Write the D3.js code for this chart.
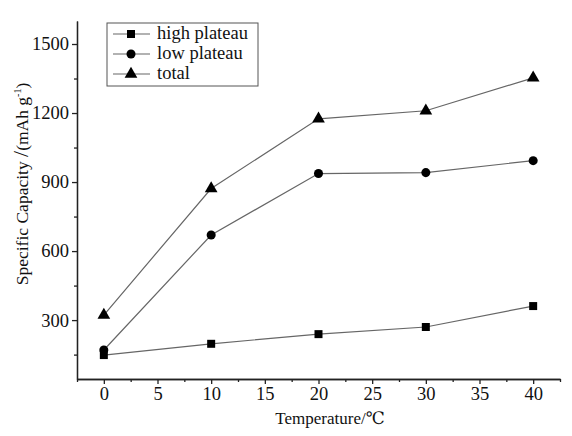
<!DOCTYPE html>
<head>
  <meta charset="utf-8">
  <script src="https://d3js.org/d3.v7.min.js"></script>
  <style>
body { margin:0; background:#fff; }
.axis path, .axis line { stroke:#222; stroke-width:1.3; }
.series { fill:none; stroke:#666; stroke-width:1.2; }
  </style>
</head>
<body>
  <script>
const temps = [0, 10, 20, 30, 40]
const highPlateau = [148, 197, 239, 270, 361]
const lowPlateau = [170, 670, 937, 941, 993]
const total = [322, 872, 1175, 1210, 1353]
const seriesNames = ['high plateau', 'low plateau', 'total']
const xTicks = [0, 5, 10, 15, 20, 25, 30, 35, 40]
const yTicks = [300, 600, 900, 1200, 1500]

const W = 572, H = 436
const margin = { top: 21, right: 12, bottom: 57, left: 77 }
const serif = '"Liberation Serif", "DejaVu Serif", serif'

const svg = d3.select('body').append('svg')
	.attr('width', W).attr('height', H)

const x = d3.scaleLinear().domain([-2.5, 42.5]).range([margin.left, W - margin.right])
const y = d3.scaleLinear().domain([44, 1600]).range([H - margin.bottom, margin.top])

// minor ticks
const xMinor = d3.range(-2.5, 42.6, 2.5).filter(v => v % 5 !== 0)
const yMinor = d3.range(150, 1600, 300)

svg.append('g').attr('class', 'axis')
	.attr('transform', `translate(0,${y.range()[0]})`)
	.call(d3.axisBottom(x).tickValues(xMinor).tickSize(3).tickFormat('').tickSizeOuter(0))
svg.append('g').attr('class', 'axis')
	.attr('transform', `translate(${x.range()[0]},0)`)
	.call(d3.axisLeft(y).tickValues(yMinor).tickSize(3).tickFormat('').tickSizeOuter(0))

const xa = svg.append('g').attr('class', 'axis')
	.attr('transform', `translate(0,${y.range()[0]})`)
	.call(d3.axisBottom(x).tickValues(xTicks).tickSize(5).tickSizeOuter(0).tickPadding(3).tickFormat(d3.format('d')))
const ya = svg.append('g').attr('class', 'axis')
	.attr('transform', `translate(${x.range()[0]},0)`)
	.call(d3.axisLeft(y).tickValues(yTicks).tickSize(5).tickSizeOuter(0).tickPadding(3).tickFormat(d3.format('d')))
xa.attr('font-family', null).attr('font-size', null)
ya.attr('font-family', null).attr('font-size', null)
svg.selectAll('.axis text').style('font-family', serif).style('font-size', '18.5px').style('fill', '#111')

svg.append('text')
	.attr('x', 330).attr('y', 424)
	.attr('text-anchor', 'middle')
	.style('font-family', serif).style('font-size', '17px').style('fill', '#111')
	.text('Temperature/℃')

const yt = svg.append('text')
	.attr('transform', 'translate(28,184) rotate(-90)')
	.attr('text-anchor', 'middle')
	.style('font-family', serif).style('font-size', '17.5px').style('fill', '#111')
yt.append('tspan').text('Specific Capacity ')
yt.append('tspan').style('font-size', '22px').text('/')
yt.append('tspan').text('(mAh g')
yt.append('tspan').style('font-size', '10px').attr('dy', -7).text('-1')
yt.append('tspan').attr('dy', 7).text(')')

const data = [highPlateau, lowPlateau, total]
const symbols = [d3.symbolSquare, d3.symbolCircle, d3.symbolTriangle]
const sizes = [64, 64, 70]

const line = d3.line().x((d, i) => x(temps[i])).y(d => y(d))

data.forEach((vals, k) => {
	svg.append('path').attr('class', 'series').attr('d', line(vals))
	svg.selectAll(null).data(vals).enter().append('path')
		.attr('d', d3.symbol().type(symbols[k]).size(sizes[k]))
		.attr('transform', (d, i) => `translate(${x(temps[i])},${y(d)})`)
		.attr('fill', '#000')
})

// legend
const lg = svg.append('g').attr('transform', 'translate(107,23)')
lg.append('rect').attr('width', 151).attr('height', 63)
	.attr('fill', '#fff').attr('stroke', '#555').attr('stroke-width', 1)
seriesNames.forEach((name, k) => {
	const yy = 11 + k * 20
	lg.append('line').attr('x1', 6).attr('x2', 43).attr('y1', yy).attr('y2', yy)
		.attr('stroke', '#666').attr('stroke-width', 1.2)
	lg.append('path').attr('d', d3.symbol().type(symbols[k]).size(sizes[k]))
		.attr('transform', `translate(24,${yy})`).attr('fill', '#000')
	lg.append('text').attr('x', 50).attr('y', yy + 5)
		.style('font-family', serif).style('font-size', '18.5px').style('fill', '#111')
		.text(name)
})
  </script>
</body>
